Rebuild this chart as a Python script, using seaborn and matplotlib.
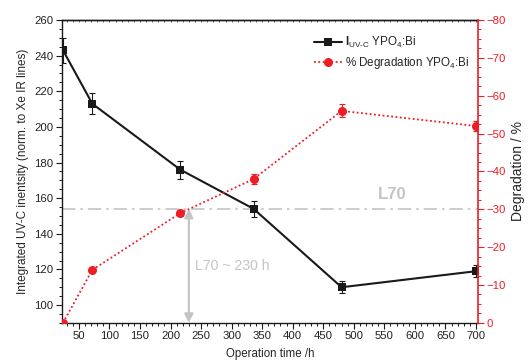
import matplotlib
matplotlib.use("Agg")
import matplotlib.pyplot as plt
from matplotlib.lines import Line2D
from matplotlib.ticker import MultipleLocator
import seaborn as sns
import pandas as pd

# Operation time of the lamp (h)
hours = [24, 72, 216, 336, 480, 700]
# Integrated UV-C intensity, normalised to Xe IR lines
intensity = [243, 213, 176, 154, 110, 119]
intensity_err = [7, 6, 5, 4.5, 3.5, 3.5]
# Degradation in percent (plotted as negative values)
degradation = [0, -14, -29, -38, -56, -52]
degradation_err = [0.5, 0.5, 0.8, 1.2, 1.7, 1.3]

l70_level = 154
l70_hours = 230

sns.set_theme(style="ticks")
plt.rcParams["font.family"] = ["Liberation Sans", "DejaVu Sans"]
plt.rcParams["mathtext.fontset"] = "custom"
plt.rcParams["mathtext.rm"] = "Liberation Sans"
plt.rcParams["mathtext.bf"] = "Liberation Sans:bold"

BLACK = "#1a1a1a"
RED = "#ee1c25"
GREY = "#c4c4c4"

fig = plt.figure(figsize=(5.28, 3.64), dpi=100)
ax = fig.add_axes([0.117, 0.113, 0.788, 0.832])
ax2 = ax.twinx()

df = pd.DataFrame({"t": hours, "I": intensity, "D": degradation})

# L70 reference line and annotations
ax.axhline(l70_level, color=GREY, lw=1.2, ls=(0, (8, 3, 1.5, 3)), zorder=1)
ax.annotate("", xy=(l70_hours, l70_level), xytext=(l70_hours, 90),
            arrowprops=dict(arrowstyle="<|-|>", color=GREY, lw=1.5,
                            mutation_scale=13, shrinkA=0, shrinkB=0))
ax.text(562, 162, "L70", color=GREY, fontsize=12, fontweight="bold",
        ha="center", va="center")
ax.text(240, 122, "L70 ~ 230 h", color=GREY, fontsize=10.2, ha="left",
        va="center")

# Intensity series
sns.lineplot(data=df, x="t", y="I", ax=ax, color=BLACK, lw=1.5,
             marker="s", markersize=5.5, markeredgewidth=0, zorder=3)
ax.errorbar(hours, intensity, yerr=intensity_err, fmt="none", ecolor=BLACK,
            elinewidth=0.8, capsize=2.5, capthick=0.8, zorder=3)

# Degradation series
sns.lineplot(data=df, x="t", y="D", ax=ax2, color=RED, lw=1.3,
             ls=(0, (1, 1.4)), marker="o", markersize=6.5,
             markeredgewidth=0, zorder=3)
ax2.errorbar(hours, degradation, yerr=degradation_err, fmt="none", ecolor=RED,
             elinewidth=0.8, capsize=2.5, capthick=0.8, zorder=3)

ax.set_xlim(22, 703)
ax.set_ylim(90, 260)
ax2.set_ylim(0, -80)

ax.xaxis.set_major_locator(MultipleLocator(50))
ax.xaxis.set_minor_locator(MultipleLocator(10))
ax.yaxis.set_major_locator(MultipleLocator(20))
ax.yaxis.set_minor_locator(MultipleLocator(5))
ax2.yaxis.set_major_locator(MultipleLocator(10))
ax2.yaxis.set_minor_locator(MultipleLocator(2.5))

ax.tick_params(axis="both", which="major", labelsize=8.2, length=4, width=0.8,
               color=BLACK, labelcolor="#222222", direction="out", pad=2)
ax.tick_params(axis="both", which="minor", length=2.2, width=0.7,
               color=BLACK, direction="out")
ax2.tick_params(axis="y", which="major", labelsize=8.2, length=4, width=0.8,
                color=RED, labelcolor=RED, direction="out", pad=2)
ax2.tick_params(axis="y", which="minor", length=2.2, width=0.7,
                color=RED, direction="out")

# small inward ticks along the top edge
top = ax.secondary_xaxis("top")
top.xaxis.set_major_locator(MultipleLocator(50))
top.xaxis.set_minor_locator(MultipleLocator(10))
top.tick_params(axis="x", which="both", direction="in", length=1.5,
                width=0.6, color="#555555", labeltop=False)
top.spines["top"].set_color(BLACK)
top.spines["top"].set_linewidth(1.0)
ax.tick_params(axis="x", which="both", top=False)

for side in ["left", "bottom", "top"]:
    ax.spines[side].set_color(BLACK)
    ax.spines[side].set_linewidth(1.0)
ax.spines["right"].set_visible(False)
for side in ["left", "bottom", "top"]:
    ax2.spines[side].set_visible(False)
ax2.spines["right"].set_color(RED)
ax2.spines["right"].set_linewidth(1.2)

ax.set_xlabel("Operation time /h", fontsize=8.3, labelpad=5)
ax.set_ylabel("Integrated UV-C inentsity (norm. to Xe IR lines)",
              fontsize=8.5, labelpad=4)
ax2.set_ylabel("Degradation / %", fontsize=10, labelpad=4)

handles = [
    Line2D([], [], color=BLACK, lw=1.5, marker="s", markersize=5.5,
           markeredgewidth=0),
    Line2D([], [], color=RED, lw=1.3, ls=(0, (1, 1.4)), marker="o",
           markersize=6.5, markeredgewidth=0),
]
labels = [r"$\mathbf{I}_{\mathrm{UV\text{-}C}}$ YPO$_4$:Bi",
          r"% Degradation YPO$_4$:Bi"]
ax2.legend(handles, labels, loc="upper left", bbox_to_anchor=(0.593, 0.97),
           frameon=False, fontsize=8.4, handlelength=2.4, handletextpad=0.2,
           labelspacing=0.4, borderpad=0)

fig.savefig("out.png", dpi=100)
